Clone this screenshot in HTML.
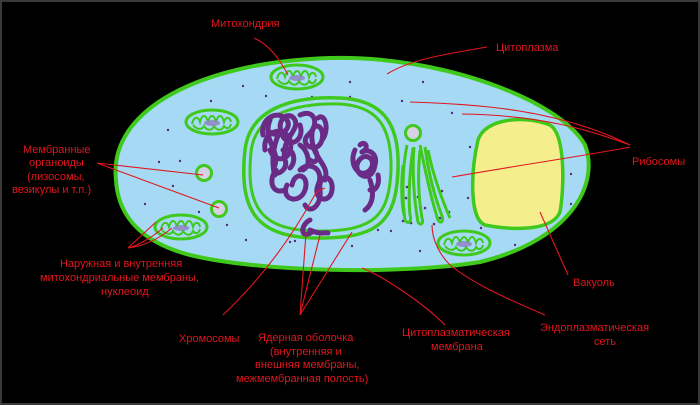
<!DOCTYPE html>
<html><head><meta charset="utf-8"><style>
html,body{margin:0;padding:0;background:#000;}
svg{display:block}
text{font-family:"Liberation Sans","DejaVu Sans",sans-serif;font-size:11px;fill:#e0161e;}
</style></head><body>
<svg width="700" height="405" viewBox="0 0 700 405" xmlns="http://www.w3.org/2000/svg">
<defs>
<g id="m">
<ellipse cx="0" cy="0" rx="26" ry="12" fill="#a6daf4" stroke="#3fc91d" stroke-width="3"/>
<path d="M-20,2 C-18,-6 -14,-6 -12,0 C-10,-8 -6,-8 -4,0 C-2,-8 2,-8 4,0 C6,-8 10,-8 12,0 C14,-6 18,-5 19,0 M-19,3 C-15,8 -10,8 -8,4 C-5,9 0,9 2,4 C5,9 10,9 12,4 C15,8 18,6 19,2" fill="none" stroke="#3fc91d" stroke-width="2"/>
<ellipse cx="0" cy="1" rx="8" ry="3" fill="#8e7ec2" opacity="0.8"/>
</g>
</defs>
<rect x="1" y="1" width="698" height="403" fill="#000" stroke="#3a3a3a" stroke-width="2"/>
<!-- cell -->
<path d="M116,180 C108,110 200,62 330,58 C440,55 560,100 585,145 C600,185 570,240 480,262 C400,275 260,272 190,255 C140,242 118,215 116,180 Z" fill="#a6daf4" stroke="#3fc91d" stroke-width="4"/>
<!-- ribosome dots -->
<g fill="#5a2a80">
<circle cx="243" cy="86" r="1.2"/><circle cx="266" cy="96" r="1.2"/><circle cx="312" cy="97" r="1.2"/><circle cx="350" cy="97" r="1.2"/><circle cx="350" cy="82" r="1.2"/><circle cx="423" cy="82" r="1.2"/><circle cx="402" cy="101" r="1.2"/><circle cx="452" cy="113" r="1.2"/><circle cx="211" cy="101" r="1.2"/><circle cx="168" cy="130" r="1.2"/><circle cx="180" cy="161" r="1.2"/><circle cx="159" cy="162" r="1.2"/><circle cx="173" cy="186" r="1.2"/><circle cx="145" cy="204" r="1.2"/><circle cx="199" cy="212" r="1.2"/><circle cx="227" cy="225" r="1.2"/><circle cx="246" cy="240" r="1.2"/><circle cx="295" cy="241" r="1.2"/><circle cx="290" cy="242" r="1.2"/><circle cx="352" cy="246" r="1.2"/><circle cx="391" cy="231" r="1.2"/><circle cx="378" cy="230" r="1.2"/><circle cx="420" cy="251" r="1.2"/><circle cx="481" cy="228" r="1.2"/><circle cx="515" cy="245" r="1.2"/><circle cx="571" cy="174" r="1.2"/><circle cx="571" cy="204" r="1.2"/><circle cx="470" cy="147" r="1.2"/><circle cx="468" cy="198" r="1.2"/><circle cx="362" cy="223" r="1.2"/>
<circle cx="407" cy="187" r="1.3"/><circle cx="406" cy="198" r="1.3"/><circle cx="404" cy="209" r="1.3"/><circle cx="403" cy="221" r="1.3"/><circle cx="416" cy="207" r="1.3"/><circle cx="425" cy="208" r="1.3"/><circle cx="432" cy="200" r="1.3"/><circle cx="442" cy="191" r="1.3"/><circle cx="445" cy="205" r="1.3"/><circle cx="440" cy="218" r="1.3"/><circle cx="449" cy="212" r="1.3"/><circle cx="411" cy="223" r="1.3"/><circle cx="434" cy="224" r="1.3"/><circle cx="418" cy="197" r="1.3"/><circle cx="432" cy="185" r="1.3"/>
</g>
<!-- nucleus -->
<path d="M245,150 C250,105 300,96 340,98 C380,100 400,120 398,170 C396,220 380,238 320,238 C260,238 238,215 245,150 Z" fill="#a6daf4" stroke="#3fc91d" stroke-width="3.5"/>
<path d="M251,152 C255,112 300,103 340,104 C376,106 392,125 391,170 C389,215 375,231 320,231 C265,231 245,212 251,152 Z" fill="none" stroke="#3fc91d" stroke-width="3"/>
<!-- chromatin -->
<g fill="none" stroke="#6a2b86" stroke-width="5" stroke-linecap="round" stroke-linejoin="round">
<path d="M270,120 C262,140 280,150 275,165 C268,180 290,172 285,160 C280,140 300,130 295,120 C290,110 275,118 282,135 C290,150 305,140 300,125"/>
<path d="M265,150 C262,130 285,125 290,140 C295,160 275,165 270,150"/>
<path d="M263,135 C260,120 275,110 285,118 C295,126 280,140 270,132"/>
<path d="M300,115 C315,108 320,125 308,135 C298,145 318,155 322,140 C326,125 310,118 312,140 C314,160 330,165 325,180"/>
<path d="M318,118 C325,112 330,130 322,140"/>
<path d="M287,185 C280,200 300,205 305,190 C310,175 295,170 292,185"/>
<path d="M276,170 C268,180 272,195 285,190"/>
<path d="M300,170 C310,160 325,170 318,185 C312,200 330,205 332,190 C334,175 318,172 320,190 C322,205 310,215 305,205"/>
<path d="M310,220 C300,225 300,240 312,232 M310,230 C320,235 325,232 328,233"/>
<path d="M355,150 C348,165 360,180 370,170 C378,160 365,150 358,162 C352,175 372,185 375,165 C378,155 370,148 362,152"/>
<path d="M360,145 C365,140 370,148 362,152 M370,180 C375,195 372,205 365,210 M378,175 C380,185 375,192 370,190"/>
<path d="M283,150 C292,145 298,160 290,168 M280,132 C275,140 270,160 275,175"/>
<path d="M300,145 C308,150 312,165 303,170 M315,150 C320,158 316,165 310,160"/>
</g>
<!-- Golgi -->
<g fill="none" stroke="#3fc91d" stroke-width="3">
<circle cx="413" cy="133" r="7.5" fill="#d7d1e6"/>
<path d="M407,145 C402,170 402,200 405,220 C408,225 412,222 410,215 C408,195 410,170 413,148"/>
<path d="M414,147 C412,170 414,200 418,222 C420,226 424,224 422,218 C418,195 418,170 420,150"/>
<path d="M420,145 C424,165 430,195 438,220 C440,224 444,222 442,216 C434,195 428,170 425,147"/>
<path d="M428,150 C432,170 440,195 450,218 M403,165 C401,185 401,200 404,215"/>
</g>
<!-- vacuole -->
<path d="M478,140 C485,118 525,115 550,125 C566,135 564,190 560,212 C552,232 510,230 485,225 C470,220 470,175 478,140 Z" fill="#f5ee8d" stroke="#3fc91d" stroke-width="3.5"/>
<!-- vesicles -->
<circle cx="204" cy="173" r="7.5" fill="#d7d1e6" stroke="#3fc91d" stroke-width="3"/>
<circle cx="219" cy="209" r="7.5" fill="#d7d1e6" stroke="#3fc91d" stroke-width="3"/>
<use href="#m" x="297" y="77"/>
<use href="#m" x="212" y="122"/>
<use href="#m" x="181" y="227"/>
<use href="#m" x="464" y="243"/>
<!-- leader lines -->
<g fill="none" stroke="#e0161e" stroke-width="1.1">
<path d="M254,38 C270,45 280,60 288,75"/>
<path d="M487,47 C440,55 410,60 387,74"/>
<path d="M410,102 C480,104 560,110 630,145"/>
<path d="M462,114 C540,115 590,130 630,145"/>
<path d="M452,177 C520,165 590,155 630,147"/>
<path d="M97,163 L203,175 M97,163 L219,208"/>
<path d="M128,248 L156,222 M128,248 C140,245 155,235 163,228 M128,248 C145,246 160,238 172,228"/>
<path d="M568,275 L540,212"/>
<path d="M223,315 C260,280 290,240 313,198 C316,192 320,190 325,188"/>
<path d="M300,315 L306,233 M300,315 L320,235 M300,315 L352,232"/>
<path d="M445,325 C420,300 380,275 362,268"/>
<path d="M545,315 C510,300 475,285 450,265 C440,255 432,240 432,225"/>
</g>
<!-- labels -->
<text x="211" y="27">Митохондрия</text>
<text x="496" y="51">Цитоплазма</text>
<text x="632" y="165">Рибосомы</text>
<text x="23" y="153">Мембранные</text>
<text x="29" y="166">органоиды</text>
<text x="27" y="180">(лизосомы,</text>
<text x="12" y="193">везикулы и т.п.)</text>
<text x="60" y="267">Наружная и внутренняя</text>
<text x="40" y="281">митохондриальные мембраны,</text>
<text x="101" y="295">нуклеоид</text>
<text x="573" y="286">Вакуоль</text>
<text x="179" y="342">Хромосомы</text>
<text x="258" y="341">Ядерная оболочка</text>
<text x="270" y="355">(внутренняя и</text>
<text x="255" y="368">внешняя мембраны,</text>
<text x="236" y="382">межмембранная полость)</text>
<text x="402" y="336">Цитоплазматическая</text>
<text x="431" y="350">мембрана</text>
<text x="540" y="331">Эндоплазматическая</text>
<text x="594" y="345">сеть</text>
</svg>
</body></html>
